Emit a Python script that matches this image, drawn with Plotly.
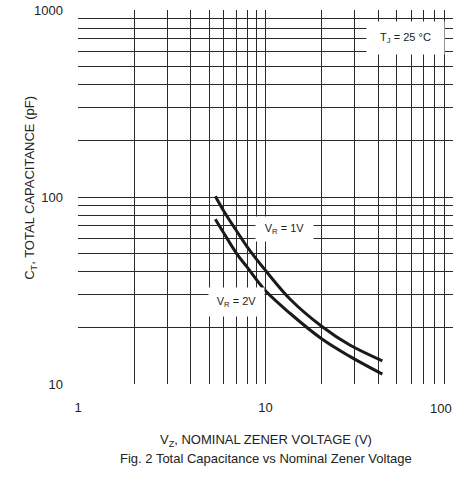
import math
import plotly.graph_objects as go

# Data
vz = [5.4, 6, 7, 8, 10, 13.5, 20, 28, 42]
ct_vr1 = [101, 84, 66, 54, 40.5, 28.5, 20.3, 16.2, 13.3]
ct_vr2 = [76, 64, 50, 42, 31.5, 23.9, 17.4, 14.1, 11.3]

x_tickvals = [1, 10, 100]
x_ticktext = ["1", "10", ""]   # "100" is drawn right-aligned at its tick below
y_tickvals = [10, 100, 1000]
y_ticktext = ["10", "100", "1000"]

FONT = "Liberation Sans, Arial, sans-serif"
GRID = "#2a2a2a"
TXT = "#222222"

fig = go.Figure()
for y in (ct_vr1, ct_vr2):
    fig.add_trace(go.Scatter(x=vz, y=y, mode="lines", line=dict(color="#1a1a1a", width=3, shape="spline"),
                             showlegend=False, hoverinfo="skip"))

axis_common = dict(
    type="log", showgrid=True, gridcolor=GRID, gridwidth=1, zeroline=False,
    showline=False, ticks="", tickfont=dict(family=FONT, size=13, color=TXT),
    minor=dict(dtick="D1", showgrid=True, gridcolor=GRID, gridwidth=1, ticks=""),
    automargin=False,
)

fig.update_xaxes(range=[0, 2], tickmode="array", tickvals=x_tickvals, ticktext=x_ticktext,
                 ticklabelstandoff=14, **axis_common)
fig.update_yaxes(range=[1, 3], tickmode="array", tickvals=y_tickvals, ticktext=y_ticktext,
                 ticklabelstandoff=14, **axis_common)

L = math.log10
tick_font = dict(family=FONT, size=13, color=TXT)
fig.add_annotation(x=L(x_tickvals[-1]), y=0, xref="x", yref="paper", text=str(x_tickvals[-1]),
                   showarrow=False, font=tick_font, xanchor="right", yanchor="top", yshift=-15, xshift=1)

ann_font = dict(family=FONT, size=11, color=TXT)
fig.add_annotation(x=L(56), y=L(708), xref="x", yref="y", text="T<sub>J</sub> = 25 °C", showarrow=False,
                   bgcolor="white", width=75, height=30, font=ann_font)
fig.add_annotation(x=L(12.7), y=L(67.5), xref="x", yref="y", text="V<sub>R</sub> = 1V", showarrow=False,
                   bgcolor="white", width=55, height=22, font=ann_font)
fig.add_annotation(x=L(7.0), y=L(27.3), xref="x", yref="y", text="V<sub>R</sub> = 2V", showarrow=False,
                   bgcolor="white", width=53, height=26, font=ann_font)

title_font = dict(family=FONT, size=13, color=TXT)
fig.add_annotation(x=0.5, y=-0.152, xref="paper", yref="paper", text="V<sub>Z</sub>, NOMINAL ZENER VOLTAGE (V)",
                   showarrow=False, font=title_font, yanchor="middle")
fig.add_annotation(x=0.5, y=-0.198, xref="paper", yref="paper", text="Fig. 2 Total Capacitance vs Nominal Zener Voltage",
                   showarrow=False, font=title_font, yanchor="middle")
fig.add_annotation(x=-0.125, y=0.525, xref="paper", yref="paper", text="C<sub>T</sub>, TOTAL CAPACITANCE (pF)",
                   showarrow=False, font=title_font, textangle=-90, xanchor="center", yanchor="middle")

fig.update_layout(
    width=460, height=478, margin=dict(l=78, r=7, t=10, b=94),
    paper_bgcolor="white", plot_bgcolor="white", showlegend=False,
)

fig.write_html("out.html", config={"displayModeBar": False},
               post_script="document.body.style.margin='0';document.body.style.overflow='hidden';")
